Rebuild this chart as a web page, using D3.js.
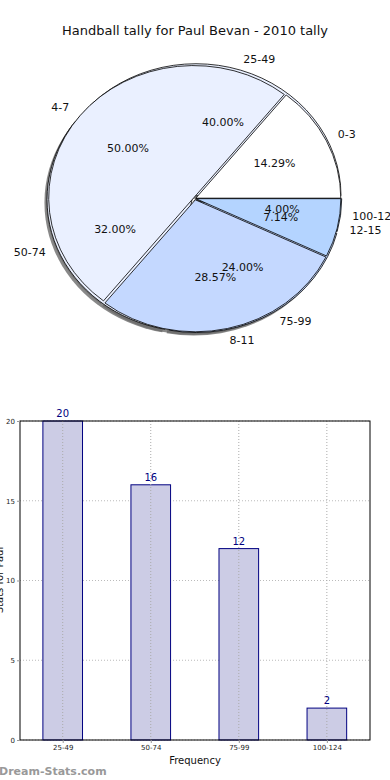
<!DOCTYPE html>
<html><head><meta charset="utf-8">
<script src="https://cdn.jsdelivr.net/npm/d3@7"></script>
<style>body{margin:0;background:#fff}svg{display:block;font-family:"DejaVu Sans",sans-serif}</style>
</head><body><svg id="c" width="390" height="780"></svg>
<script>
const title = "Handball tally for Paul Bevan - 2010 tally";
const pieCatsA = ["0-3","4-7","8-11","12-15"];
const pieValsA = [2,7,4,1];
const pieColorsA = ["#ffffff","#eaf0ff","#c4d8ff","#b4d4ff"];
const pieExplodeA = [0.006,0.01,0.01,0.006];
const pieCatsB = ["25-49","50-74","75-99","100-124"];
const pieValsB = [20,16,12,2];
const pieColorsB = ["#eaf0ff","#eaf0ff","#c4d8ff","#b4d4ff"];
const pieExplodeB = [0.022,0.022,0.018,0.012];
const barCats = ["25-49","50-74","75-99","100-124"];
const barVals = [20,16,12,2];
const yTicks = [0,5,10,15,20];

const svg = d3.select("#c");
svg.append("text").attr("x",195).attr("y",35).attr("text-anchor","middle")
  .attr("font-size",13).attr("fill","#111").text(title);

// ---- pie (matplotlib style: start at 3 o'clock, counter-clockwise, elliptical axes)
const cx=195, cy=198.5, rx=145, ry=132, lrx=145, lry=133;
const g = svg.append("g").attr("transform",`translate(${cx},${cy}) scale(${rx/100},${ry/100})`);
function wedges(vals){
  const tot=d3.sum(vals); let a=0;
  return vals.map(v=>{const s=a; a+=v/tot*2*Math.PI; return {s, e:a, m:(s+a)/2, v, p:v/tot};});
}
const arc = d3.arc().innerRadius(0).outerRadius(100);
function arcPath(w){ return arc({startAngle:Math.PI/2 - w.e, endAngle:Math.PI/2 - w.s}); }
const wA = wedges(pieValsA), wB = wedges(pieValsB);
// shadow
const sh = g.append("g").attr("transform","translate(-1.8,2.3)");
[...wB.map((w,i)=>({w,ex:pieExplodeB[i]})), ...wA.map((w,i)=>({w,ex:pieExplodeA[i]}))].forEach(o=>{
  sh.append("path").attr("d",arcPath(o.w))
    .attr("transform",`translate(${Math.cos(o.w.m)*o.ex*100},${-Math.sin(o.w.m)*o.ex*100})`)
    .attr("fill","#6a6a6a").attr("opacity",0.8);
});
function drawPie(ws, colors, ex){
  ws.forEach((w,i)=>{
    g.append("path").attr("d",arcPath(w))
      .attr("transform",`translate(${Math.cos(w.m)*ex[i]*100},${-Math.sin(w.m)*ex[i]*100})`)
      .attr("fill",colors[i]).attr("stroke","#000").attr("stroke-width",0.8)
      .attr("vector-effect","non-scaling-stroke").attr("stroke-linejoin","miter");
  });
}
drawPie(wB, pieColorsB, pieExplodeB);
drawPie(wA, pieColorsA, pieExplodeA);
// labels
function pieLabels(ws, cats){
  ws.forEach((w,i)=>{
    const c=Math.cos(w.m), s=Math.sin(w.m);
    const lx=194+1.1*c*lrx, ly=198-1.1*s*lry;
    svg.append("text").attr("x",lx).attr("y",ly).attr("dy","0.35em")
      .attr("text-anchor", c>=0?"start":"end").attr("font-size",11).attr("fill","#111").text(cats[i]);
    const px=194+0.6*c*lrx+2, py=198-0.6*s*lry+(s<0?1.5:0);
    svg.append("text").attr("x",px).attr("y",py).attr("dy","0.35em")
      .attr("text-anchor","middle").attr("font-size",11).attr("fill","#111").text((w.p*100).toFixed(2)+"%");
  });
}
pieLabels(wB, pieCatsB);
pieLabels(wA, pieCatsA);

// ---- bar chart
const L=20, R=370, T=421, B=740;
const x = d3.scaleLinear().domain([-0.485,3.49]).range([L,R]);
const y = d3.scaleLinear().domain([0,20]).range([B,T]);
const bg = svg.append("g");
bg.selectAll(".gy").data(yTicks).join("line").attr("x1",L).attr("x2",R)
  .attr("y1",d=>y(d)).attr("y2",d=>y(d)).attr("stroke","#bbb").attr("stroke-width",1).attr("stroke-dasharray","1,2");
const bw=0.45;
bg.selectAll(".bar").data(barVals).join("rect")
  .attr("x",(d,i)=>x(i-bw/2)).attr("width",x(bw)-x(0))
  .attr("y",d=>y(d)).attr("height",d=>B-y(d))
  .attr("fill","#ccccE5").attr("stroke","#000080").attr("stroke-width",1);
bg.selectAll(".gx").data(barCats).join("line").attr("x1",(d,i)=>x(i)).attr("x2",(d,i)=>x(i))
  .attr("y1",T).attr("y2",B).attr("stroke","#aaa").attr("stroke-width",1).attr("stroke-dasharray","1,2");
bg.selectAll(".vl").data(barVals).join("text").attr("x",(d,i)=>x(i)).attr("y",d=>y(d)-4)
  .attr("text-anchor","middle").attr("font-size",10).attr("fill","#000080").text(d=>d);
bg.append("rect").attr("x",L).attr("y",T).attr("width",R-L).attr("height",B-T)
  .attr("fill","none").attr("stroke","#000").attr("stroke-width",1);
const ya = d3.axisLeft(y).tickValues(yTicks).tickSize(3).tickPadding(2);
const yg = svg.append("g").attr("transform",`translate(${L},0)`).call(ya);
yg.select(".domain").remove();
yg.selectAll("text").attr("font-size",7).attr("fill","#222").attr("font-family","DejaVu Sans");
yg.selectAll("line").attr("stroke","#999");
const xa = d3.axisBottom(x).tickValues([0,1,2,3]).tickFormat(i=>barCats[i]).tickSize(3).tickPadding(2);
const xg = svg.append("g").attr("transform",`translate(0,${B})`).call(xa);
xg.select(".domain").remove();
xg.selectAll("text").attr("font-size",7).attr("fill","#222").attr("font-family","DejaVu Sans");
xg.selectAll("line").attr("stroke","#999");
svg.append("text").attr("x",195).attr("y",764).attr("text-anchor","middle").attr("font-size",10).attr("fill","#111").text("Frequency");
svg.append("text").attr("transform",`translate(3,580) rotate(-90)`).attr("text-anchor","middle")
  .attr("font-size",10).attr("fill","#111").text("Stats for Paul");
svg.append("text").attr("x",-1).attr("y",775).attr("font-size",11).attr("font-weight","bold")
  .attr("fill","#999").text("Dream-Stats.com");
</script></body></html>
